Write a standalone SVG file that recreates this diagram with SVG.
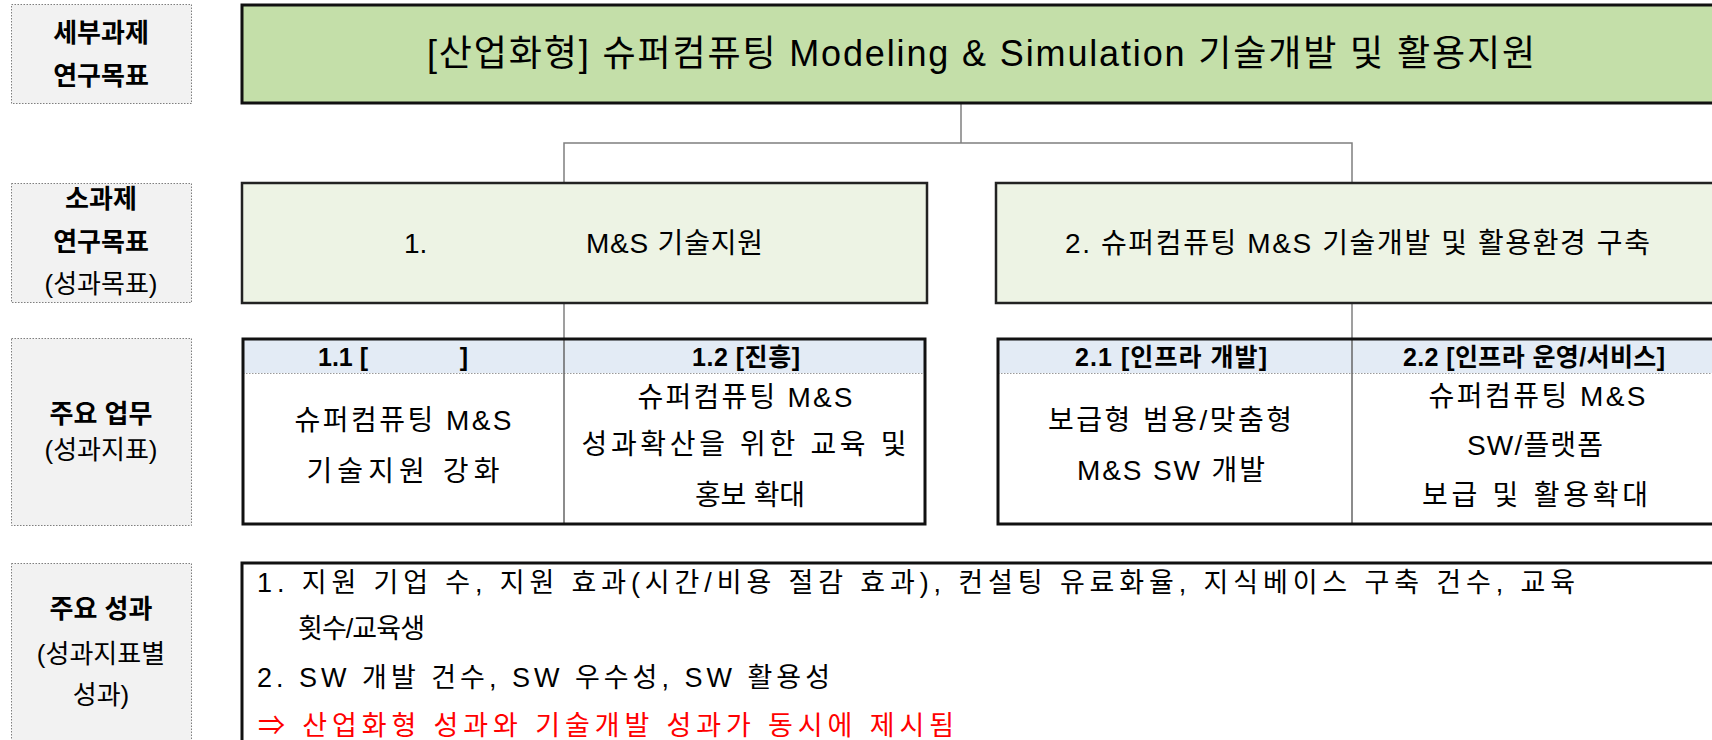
<svg xmlns="http://www.w3.org/2000/svg" width="1712" height="740" viewBox="0 0 1712 740">
<style>
text{font-family:"Liberation Sans","Noto Sans CJK KR",sans-serif;fill:#000}
.lbl{fill:#f2f2f2;stroke:#7f7f7f;stroke-width:1;stroke-dasharray:1.5 1.5}
.lt{font-size:26px;text-anchor:middle}
.b{font-weight:bold}
.title{fill:#c4dfa9;stroke:#111;stroke-width:3}
.sub{fill:#edf3e4;stroke:#222;stroke-width:2.5}
.tbl{fill:none;stroke:#111;stroke-width:3}
.hdr{fill:#e3ebf5}
.sep{stroke:#999;stroke-width:1;stroke-dasharray:1.5 1.5}
.div{stroke:#666;stroke-width:1.5}
.con{fill:none;stroke:#7f7f7f;stroke-width:1.5}
.ht{font-size:25px;font-weight:bold;text-anchor:middle}
.bt{font-size:28px;text-anchor:middle}
.rt{font-size:27px}
</style>

<g id="label-1">
<rect class="lbl" x="11.5" y="4.5" width="180" height="99"/>
<text class="lt b" x="101" y="42">세부과제</text>
<text class="lt b" x="101" y="85">연구목표</text>
</g>
<g id="label-2">
<rect class="lbl" x="11.5" y="183.5" width="180" height="119"/>
<text class="lt b" x="101" y="208">소과제</text>
<text class="lt b" x="101" y="251">연구목표</text>
<text class="lt" x="101" y="293">(성과목표)</text>
</g>
<g id="label-3">
<rect class="lbl" x="11.5" y="338.5" width="180" height="187"/>
<text class="lt b" x="101" y="423">주요 업무</text>
<text class="lt" x="101" y="459">(성과지표)</text>
</g>
<g id="label-4">
<rect class="lbl" x="11.5" y="563.5" width="180" height="200"/>
<text class="lt b" x="101" y="618">주요 성과</text>
<text class="lt" x="101" y="663">(성과지표별</text>
<text class="lt" x="101" y="704">성과)</text>
</g>

<g id="connectors">
<path class="con" d="M961 103 V143"/>
<path class="con" d="M564 183 V143 H1352 V183"/>
<path class="con" d="M564 303 V339"/>
<path class="con" d="M1352 303 V339"/>
</g>

<g id="goal">
<rect class="title" x="242" y="5" width="1480" height="98"/>
<text x="427" y="66" font-size="36" textLength="1108" lengthAdjust="spacing">[산업화형] 슈퍼컴퓨팅 Modeling &amp; Simulation 기술개발 및 활용지원</text>
</g>

<g id="sub-1">
<rect class="sub" x="242" y="183" width="685" height="120"/>
<text font-size="28" y="253"><tspan x="404">1.</tspan><tspan x="586" textLength="177" lengthAdjust="spacing">M&amp;S 기술지원</tspan></text>
</g>
<g id="sub-2">
<rect class="sub" x="996" y="183" width="740" height="120"/>
<text font-size="28" x="1065" y="253" textLength="585" lengthAdjust="spacing">2. 슈퍼컴퓨팅 M&amp;S 기술개발 및 활용환경 구축</text>
</g>

<g id="table-1">
<rect class="hdr" x="243" y="339" width="682" height="34"/>
<line class="sep" x1="243" y1="373.5" x2="925" y2="373.5"/>
<line class="div" x1="564" y1="339" x2="564" y2="524"/>
<rect class="tbl" x="243" y="339" width="682" height="185"/>
</g>
<g id="task-1-1">
<text class="ht" y="366"><tspan x="343">1.1 [</tspan><tspan x="464">]</tspan></text>
<text class="bt" x="403" y="430" textLength="217" lengthAdjust="spacing">슈퍼컴퓨팅 M&amp;S</text>
<text class="bt" x="403" y="481" textLength="193" lengthAdjust="spacing">기술지원 강화</text>
</g>
<g id="task-1-2">
<text class="ht" x="746" y="366" textLength="108" lengthAdjust="spacing">1.2 [진흥]</text>
<text class="bt" x="745" y="407" textLength="215" lengthAdjust="spacing">슈퍼컴퓨팅 M&amp;S</text>
<text class="bt" x="744" y="454" textLength="325" lengthAdjust="spacing">성과확산을 위한 교육 및</text>
<text class="bt" x="750" y="505" textLength="110" lengthAdjust="spacing">홍보 확대</text>
</g>

<g id="table-2">
<rect class="hdr" x="998" y="339" width="730" height="34"/>
<line class="sep" x1="998" y1="373.5" x2="1728" y2="373.5"/>
<line class="div" x1="1352" y1="339" x2="1352" y2="524"/>
<rect class="tbl" x="998" y="339" width="730" height="185"/>
</g>
<g id="task-2-1">
<text class="ht" x="1171" y="366" textLength="192" lengthAdjust="spacing">2.1 [인프라 개발]</text>
<text class="bt" x="1170" y="430" textLength="244" lengthAdjust="spacing">보급형 범용/맞춤형</text>
<text class="bt" x="1171" y="480" textLength="188" lengthAdjust="spacing">M&amp;S SW 개발</text>
</g>
<g id="task-2-2">
<text class="ht" x="1534" y="366" textLength="262" lengthAdjust="spacing">2.2 [인프라 운영/서비스]</text>
<text class="bt" x="1537" y="406" textLength="217" lengthAdjust="spacing">슈퍼컴퓨팅 M&amp;S</text>
<text class="bt" x="1535" y="455" textLength="136" lengthAdjust="spacing">SW/플랫폼</text>
<text class="bt" x="1535" y="505" textLength="226" lengthAdjust="spacing">보급 및 활용확대</text>
</g>

<g id="outcomes">
<rect x="242" y="563" width="1480" height="200" style="fill:#fff;stroke:#111;stroke-width:3"/>
<text class="rt" x="257" y="591.5" textLength="1318" lengthAdjust="spacing">1. 지원 기업 수, 지원 효과(시간/비용 절감 효과), 컨설팅 유료화율, 지식베이스 구축 건수, 교육</text>
<text class="rt" x="298" y="637.5" textLength="127" lengthAdjust="spacing">횟수/교육생</text>
<text class="rt" x="257" y="686.5" textLength="573" lengthAdjust="spacing">2. SW 개발 건수, SW 우수성, SW 활용성</text>
<text class="rt" x="258" y="734.5" textLength="696" lengthAdjust="spacing" style="fill:#ff0000">⇒ 산업화형 성과와 기술개발 성과가 동시에 제시됨</text>
</g>
</svg>
